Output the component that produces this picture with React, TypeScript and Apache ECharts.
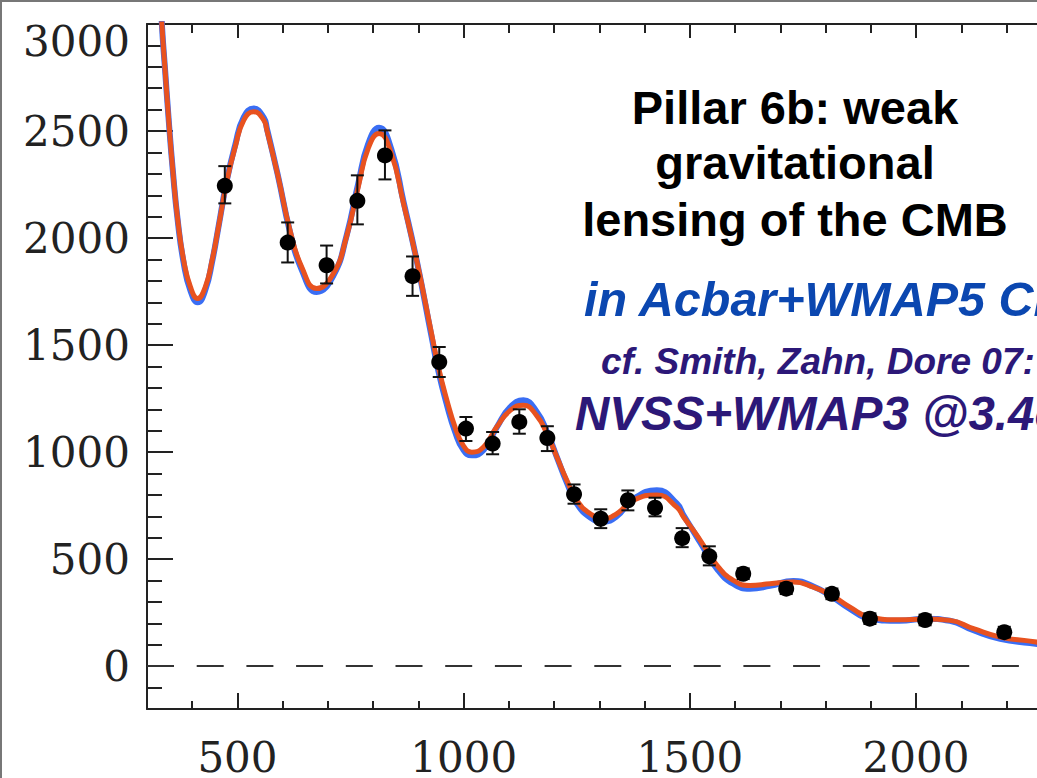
import React, { useEffect, useRef } from 'react';
import * as echarts from 'echarts';

// multipole l of the theory curves
const curveL = [318, 333, 340, 348, 357, 368, 381, 396, 412, 429, 444, 458, 477, 495, 514, 536, 558, 565, 590, 616, 642, 675, 712, 741, 767, 789, 813, 840, 867, 896, 929, 944, 963, 981, 999, 1018, 1044, 1073, 1103, 1132, 1161, 1184, 1206, 1228, 1250, 1280, 1309, 1338, 1375, 1427, 1471, 1486, 1508, 1523, 1560, 1596, 1633, 1677, 1729, 1773, 1814, 1854, 1898, 1964, 2020, 2075, 2127, 2186, 2252, 2275];
// lensed model (red)
const lensedCl = [3600, 2995, 2785, 2551, 2317, 2084, 1897, 1772, 1718, 1772, 1897, 2052, 2271, 2426, 2551, 2590, 2551, 2504, 2286, 2037, 1865, 1764, 1834, 2006, 2239, 2419, 2489, 2395, 2162, 1897, 1554, 1398, 1242, 1117, 1032, 1000, 1024, 1117, 1195, 1219, 1172, 1086, 977, 868, 775, 712, 689, 712, 775, 800, 743, 697, 634, 588, 471, 401, 377, 385, 393, 369, 330, 276, 229, 217, 220, 214, 175, 136, 117, 110];
// unlensed model (blue)
const unlensedCl = [3600, 2995, 2785, 2551, 2317, 2080, 1885, 1755, 1700, 1758, 1890, 2052, 2275, 2435, 2565, 2605, 2562, 2512, 2286, 2030, 1852, 1748, 1825, 2010, 2255, 2440, 2515, 2415, 2170, 1897, 1540, 1380, 1220, 1095, 1012, 985, 1010, 1115, 1210, 1242, 1190, 1095, 977, 858, 760, 695, 675, 700, 780, 822, 760, 705, 630, 578, 455, 385, 362, 375, 398, 372, 325, 268, 222, 212, 222, 212, 168, 128, 108, 102];

// band powers with error bars
const bandL = [472, 611, 697, 765, 826, 887, 946, 1005, 1064, 1123, 1185, 1244, 1303, 1363, 1423, 1483, 1543, 1618, 1713, 1814, 1898, 2020, 2195];
const bandCl = [2244, 1979, 1873, 2174, 2386, 1822, 1421, 1110, 1040, 1141, 1066, 803, 689, 775, 740, 598, 513, 432, 362, 338, 222, 216, 159];
const bandLow = [2162, 1886, 1788, 2064, 2274, 1730, 1351, 1052, 990, 1086, 1005, 759, 645, 728, 700, 556, 471, 407, 337, 313, 197, 191, 134];
const bandHigh = [2336, 2073, 1965, 2293, 2503, 1914, 1491, 1164, 1094, 1200, 1121, 849, 733, 821, 787, 645, 560, 457, 387, 363, 247, 241, 184];

const xTickLabels = [500, 1000, 1500, 2000];
const yTickLabels = [0, 500, 1000, 1500, 2000, 2500, 3000];
const titleLines = ['Pillar 6b: weak', 'gravitational', 'lensing of the CMB'];
const noteBlue = 'in Acbar+WMAP5 Cl';
const noteCf = 'cf. Smith, Zahn, Dore 07:';
const noteNvss = 'NVSS+WMAP3 @3.4σ';

export default function App() {
  const ref = useRef<HTMLDivElement>(null);

  useEffect(() => {
    const chart = echarts.init(ref.current as HTMLDivElement, null, { renderer: 'svg' });
    const X_MIN = 300, X_MAX = 2400, Y_MIN = -200, Y_MAX = 3000;
    const serif = '"DejaVu Serif", serif';
    const sans = '"Liberation Sans", Arial, sans-serif';
    const ink = '#222';
    const tickStyle = { color: ink, width: 2 };

    const xBase = { type: 'value', min: X_MIN, max: X_MAX, interval: 100, splitLine: { show: false } };
    const yBase = { type: 'value', min: Y_MIN, max: Y_MAX, interval: 100, splitLine: { show: false } };

    const option: any = {
      animation: false,
      backgroundColor: '#fff',
      grid: { left: 147, top: 24, right: 3, bottom: 69, containLabel: false },
      xAxis: [
        { ...xBase, position: 'bottom', axisLine: { show: true, onZero: false, lineStyle: tickStyle }, axisTick: { show: true, inside: true, length: 8, lineStyle: tickStyle }, axisLabel: { show: false } },
        {
          ...xBase, position: 'bottom', axisLine: { show: false, onZero: false },
          axisTick: { show: true, inside: true, length: 16, customValues: xTickLabels, lineStyle: tickStyle },
          axisLabel: { show: true, customValues: xTickLabels, margin: 33, lineHeight: 30, fontFamily: serif, fontSize: 42, color: ink, formatter: (v: number) => String(v) },
        },
        { ...xBase, position: 'top', axisLine: { show: true, onZero: false, lineStyle: tickStyle }, axisTick: { show: true, inside: true, length: 9, lineStyle: tickStyle }, axisLabel: { show: false } },
        { ...xBase, position: 'top', axisLine: { show: false, onZero: false }, axisTick: { show: true, inside: true, length: 14, customValues: xTickLabels, lineStyle: tickStyle }, axisLabel: { show: false } },
      ],
      yAxis: [
        { ...yBase, position: 'left', axisLine: { show: true, onZero: false, lineStyle: tickStyle }, axisTick: { show: true, inside: true, length: 15, lineStyle: tickStyle }, axisLabel: { show: false } },
        {
          ...yBase, position: 'left', axisLine: { show: false, onZero: false },
          axisTick: { show: true, inside: true, length: 26, customValues: yTickLabels, lineStyle: tickStyle },
          axisLabel: {
            show: true, customValues: yTickLabels, margin: 17, fontFamily: serif, fontSize: 42, color: ink,
            formatter: (v: number) => (v === Y_MAX ? '{s|' + v + '}' : String(v)),
            rich: { s: { fontFamily: serif, fontSize: 42, color: ink, padding: [34, 0, 0, 0] } },
          },
        },
      ],
      series: [
        {
          type: 'line', xAxisIndex: 0, yAxisIndex: 0, smooth: true, showSymbol: false, z: 2,
          data: curveL.map((l, i) => [l, unlensedCl[i]]),
          lineStyle: { color: '#3a6ef4', width: 6 },
          markLine: {
            silent: true, symbol: 'none', label: { show: false },
            lineStyle: { type: [27, 22.7], color: '#333', width: 2 },
            data: [{ yAxis: 0 }],
          },
        },
        {
          type: 'line', xAxisIndex: 0, yAxisIndex: 0, smooth: true, showSymbol: false, z: 3,
          data: curveL.map((l, i) => [l, lensedCl[i]]),
          lineStyle: { color: '#e8521f', width: 5 },
        },
        {
          type: 'custom', xAxisIndex: 0, yAxisIndex: 0, z: 4,
          data: bandL.map((l, i) => [l, bandLow[i], bandHigh[i]]),
          encode: { x: 0, y: [1, 2] },
          renderItem: (params: any, api: any) => {
            const x = api.value(0);
            const lo = api.coord([x, api.value(1)]);
            const hi = api.coord([x, api.value(2)]);
            const hw = 6.5;
            const st = { stroke: '#111', lineWidth: 2 };
            return {
              type: 'group',
              children: [
                { type: 'line', shape: { x1: lo[0], y1: lo[1], x2: hi[0], y2: hi[1] }, style: st },
                { type: 'line', shape: { x1: lo[0] - hw, y1: lo[1], x2: lo[0] + hw, y2: lo[1] }, style: st },
                { type: 'line', shape: { x1: hi[0] - hw, y1: hi[1], x2: hi[0] + hw, y2: hi[1] }, style: st },
              ],
            };
          },
        },
        {
          type: 'scatter', xAxisIndex: 0, yAxisIndex: 0, z: 5, symbol: 'circle', symbolSize: 16,
          data: bandL.map((l, i) => [l, bandCl[i]]),
          itemStyle: { color: '#000', opacity: 1 },
        },
      ],
      graphic: [
        { type: 'rect', shape: { x: 1, y: 1, width: 1200, height: 900 }, style: { fill: 'none', stroke: '#777', lineWidth: 2 }, z: 100 },
        ...titleLines.map((t, i) => ({
          type: 'text', x: 795, y: [107, 162, 219][i], z: 100,
          style: { text: t, fill: '#000', fontFamily: sans, fontWeight: 'bold', fontSize: 47, textAlign: 'center', textVerticalAlign: 'middle' },
        })),
        { type: 'text', x: 584, y: 299, z: 100, style: { text: noteBlue, fill: '#0b47b0', fontFamily: sans, fontWeight: 'bold', fontStyle: 'italic', fontSize: 48.5, textAlign: 'left', textVerticalAlign: 'middle' } },
        { type: 'text', x: 601, y: 361, z: 100, style: { text: noteCf, fill: '#2c1878', fontFamily: sans, fontWeight: 'bold', fontStyle: 'italic', fontSize: 37, textAlign: 'left', textVerticalAlign: 'middle' } },
        { type: 'text', x: 575, y: 413, z: 100, style: { text: noteNvss, fill: '#2c1878', fontFamily: sans, fontWeight: 'bold', fontStyle: 'italic', fontSize: 47.5, textAlign: 'left', textVerticalAlign: 'middle' } },
      ],
    };

    chart.setOption(option);
    return () => chart.dispose();
  }, []);

  return (
    <div style={{ position: 'fixed', left: 0, top: 0, width: 1037, height: 778, overflow: 'hidden', background: '#fff' }}>
      <div ref={ref} style={{ position: 'absolute', left: 0, top: 0, width: 1100, height: 778 }} />
    </div>
  );
}
